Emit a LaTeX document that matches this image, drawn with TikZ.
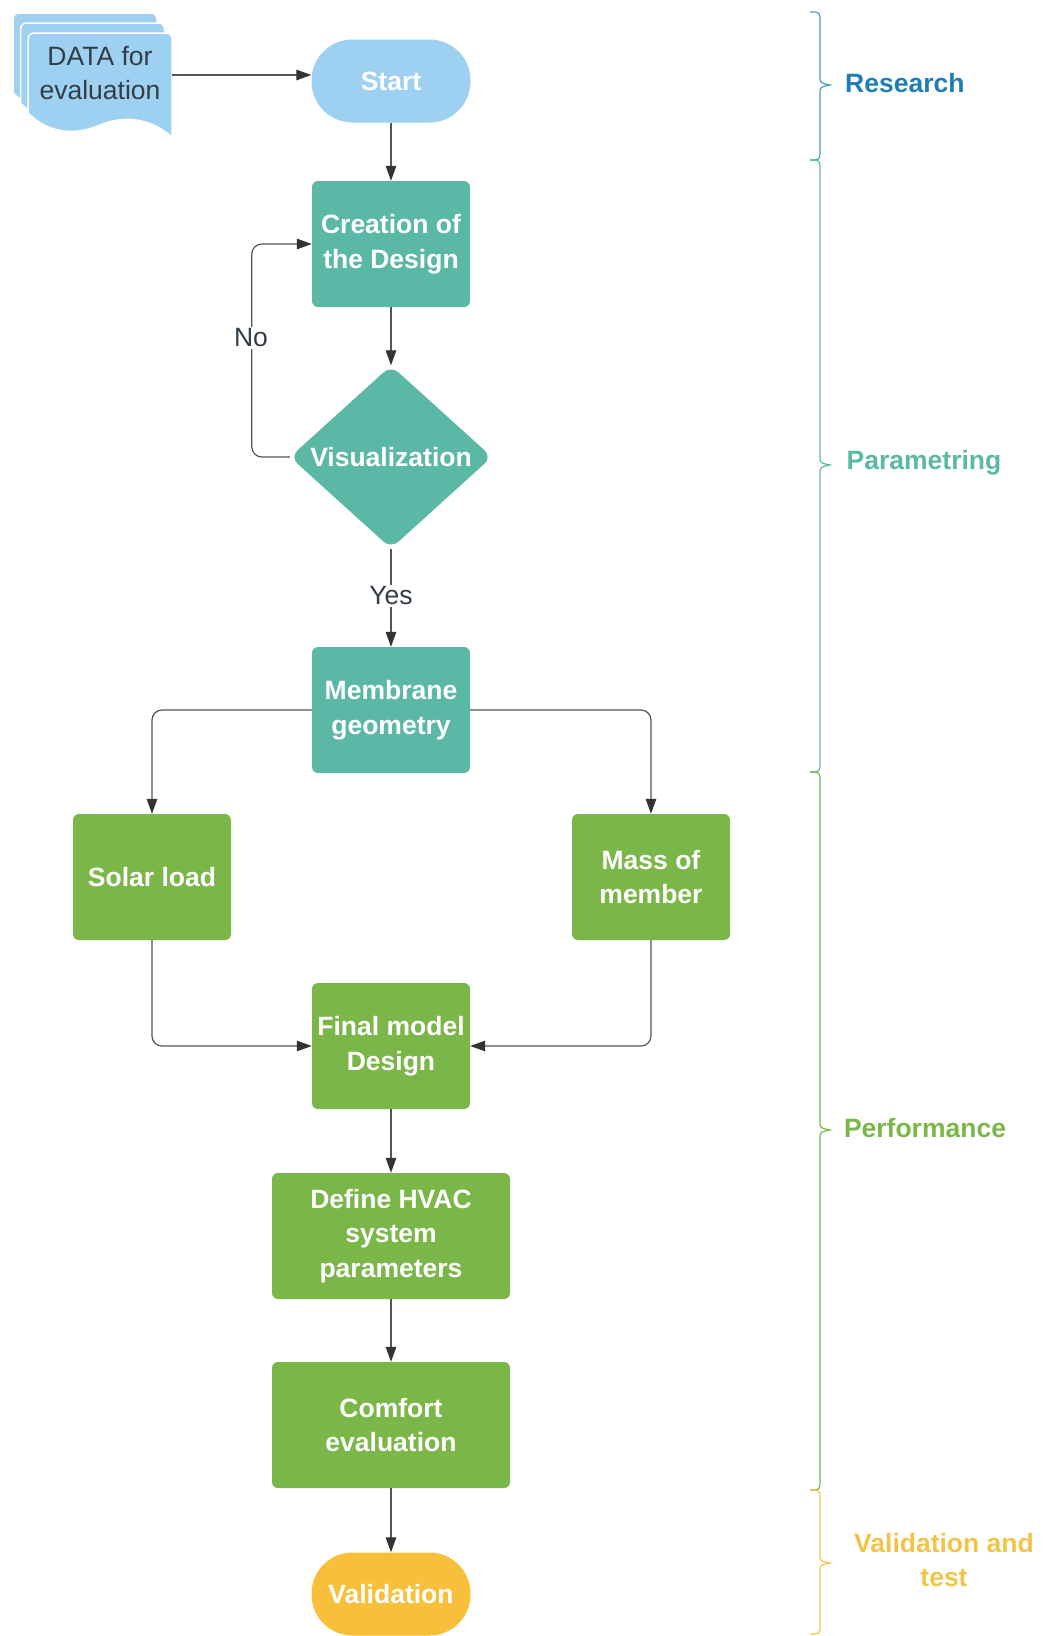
\documentclass[tikz,border=0pt]{standalone}
\usepackage{fontspec}
\setmainfont{Liberation Sans}
\usetikzlibrary{shapes.geometric,arrows.meta}
\definecolor{cblue}{HTML}{9DD0F1}
\definecolor{cteal}{HTML}{5CB8A6}
\definecolor{cgreen}{HTML}{7AB648}
\definecolor{cyellow}{HTML}{F8BF3B}
\definecolor{cresearch}{HTML}{1F7DB4}
\definecolor{cbrace}{HTML}{4A9CBC}
\definecolor{cvalid}{HTML}{F2C446}
\definecolor{linec}{HTML}{555555}
\definecolor{arrowc}{HTML}{333333}
\definecolor{txtc}{HTML}{333D47}
\newcommand\myfs{\fontsize{26.5pt}{34.5pt}\selectfont}
\newcommand\mybrace[4]{%
  \draw[#1, line width=1.2pt] (810,#2) .. controls (820,#2) .. (820,#2+10)
    -- (820,#3-9) .. controls (820,#3-2) .. (830,#3)
    .. controls (820,#3+2) .. (820,#3+9)
    -- (820,#4-10) .. controls (820,#4) .. (810,#4);}
\newcommand\mysheet{%
  (28,113) -- (28,33) -- (172,33) [sharp corners] -- (172,137)
  .. controls (150,118) and (125,115) .. (100,125)
  .. controls (70,138) and (45,130) .. (28,113) -- cycle}
\begin{document}
\begin{tikzpicture}[x=1pt,y=-1pt,
  box/.style={rectangle, rounded corners=6pt, minimum width=158pt, minimum height=126pt,
    text=white, font=\bfseries\myfs, align=center, inner sep=0pt},
  wide/.style={box, minimum width=238pt},
  term/.style={box, minimum height=83pt, minimum width=159pt, rounded corners=41pt},
  conn/.style={draw=linec, line width=1.2pt, rounded corners=10pt,
    -{Triangle[length=15pt,width=10.5pt,color=arrowc]}},
  lbl/.style={font=\myfs, text=txtc, fill=white, inner sep=2pt},
  phase/.style={font=\bfseries\myfs, align=center, inner sep=0pt},
  sheet/.style={fill=cblue, draw=white, line width=1.5pt, rounded corners=6pt}
]
\useasboundingbox (0,0) rectangle (1045,1636);

% document stack
\begin{scope}[shift={(-15,-20)}]
  \path[sheet] \mysheet;
\end{scope}
\begin{scope}[shift={(-7.5,-10)}]
  \path[sheet] \mysheet;
\end{scope}
\path[sheet] \mysheet;
\node[font=\myfs, text=txtc, align=center, minimum width=144pt, inner sep=0pt] (data) at (100,73) {DATA for\\evaluation};
\coordinate (dataout) at (172,75);

% nodes
\node[term, fill=cblue] (start) at (391,81) {Start};
\node[box, fill=cteal] (creation) at (391,244) {Creation of\\the Design};
\node[diamond, fill=cteal, rounded corners=10pt, minimum width=202pt, minimum height=183pt,
  inner sep=0pt, text=white, font=\bfseries\myfs] (viz) at (391,457) {Visualization};
\node[box, fill=cteal] (membrane) at (391,710) {Membrane\\geometry};
\node[box, fill=cgreen] (solar) at (152,877) {Solar load};
\node[box, fill=cgreen] (mass) at (651,877) {Mass of\\member};
\node[box, fill=cgreen] (final) at (391,1046) {Final model\\Design};
\node[wide, fill=cgreen] (hvac) at (391,1236) {Define HVAC\\system\\parameters};
\node[wide, fill=cgreen] (comfort) at (391,1425) {Comfort\\evaluation};
\node[term, fill=cyellow] (valid) at (391,1594) {Validation};

% connectors
\draw[conn] (dataout) -- (dataout -| start.west);
\draw[conn] (start.south) -- (creation.north);
\draw[conn] (creation.south) -- (viz.north);
\draw[conn] (viz.west) -- ++(-38,0) |- (creation.west);
\node[lbl] (no) at (251,338) {No};
\draw[conn] (viz.south) -- (membrane.north);
\node[lbl] (yes) at (391,596) {Yes};
\draw[conn] (membrane.west) -| (solar.north);
\draw[conn] (membrane.east) -| (mass.north);
\draw[conn] (solar.south) |- (final.west);
\draw[conn] (mass.south) |- (final.east);
\draw[conn] (final.south) -- (hvac.north);
\draw[conn] (hvac.south) -- (comfort.north);
\draw[conn] (comfort.south) -- (valid.north);

% phase braces
\mybrace{cbrace}{12}{85}{160}
\mybrace{cteal}{160}{465}{772}
\mybrace{cgreen}{772}{1130}{1490}
\mybrace{cvalid}{1490}{1563}{1634}
\node[phase, text=cresearch, anchor=west] (research) at (845,83) {Research};
\node[phase, text=cteal] (param) at (924,463) {Parametring};
\node[phase, text=cgreen] (perf) at (925,1128) {Performance};
\node[phase, text=cvalid] (validtest) at (944,1560) {Validation and\\test};
\end{tikzpicture}
\end{document}
